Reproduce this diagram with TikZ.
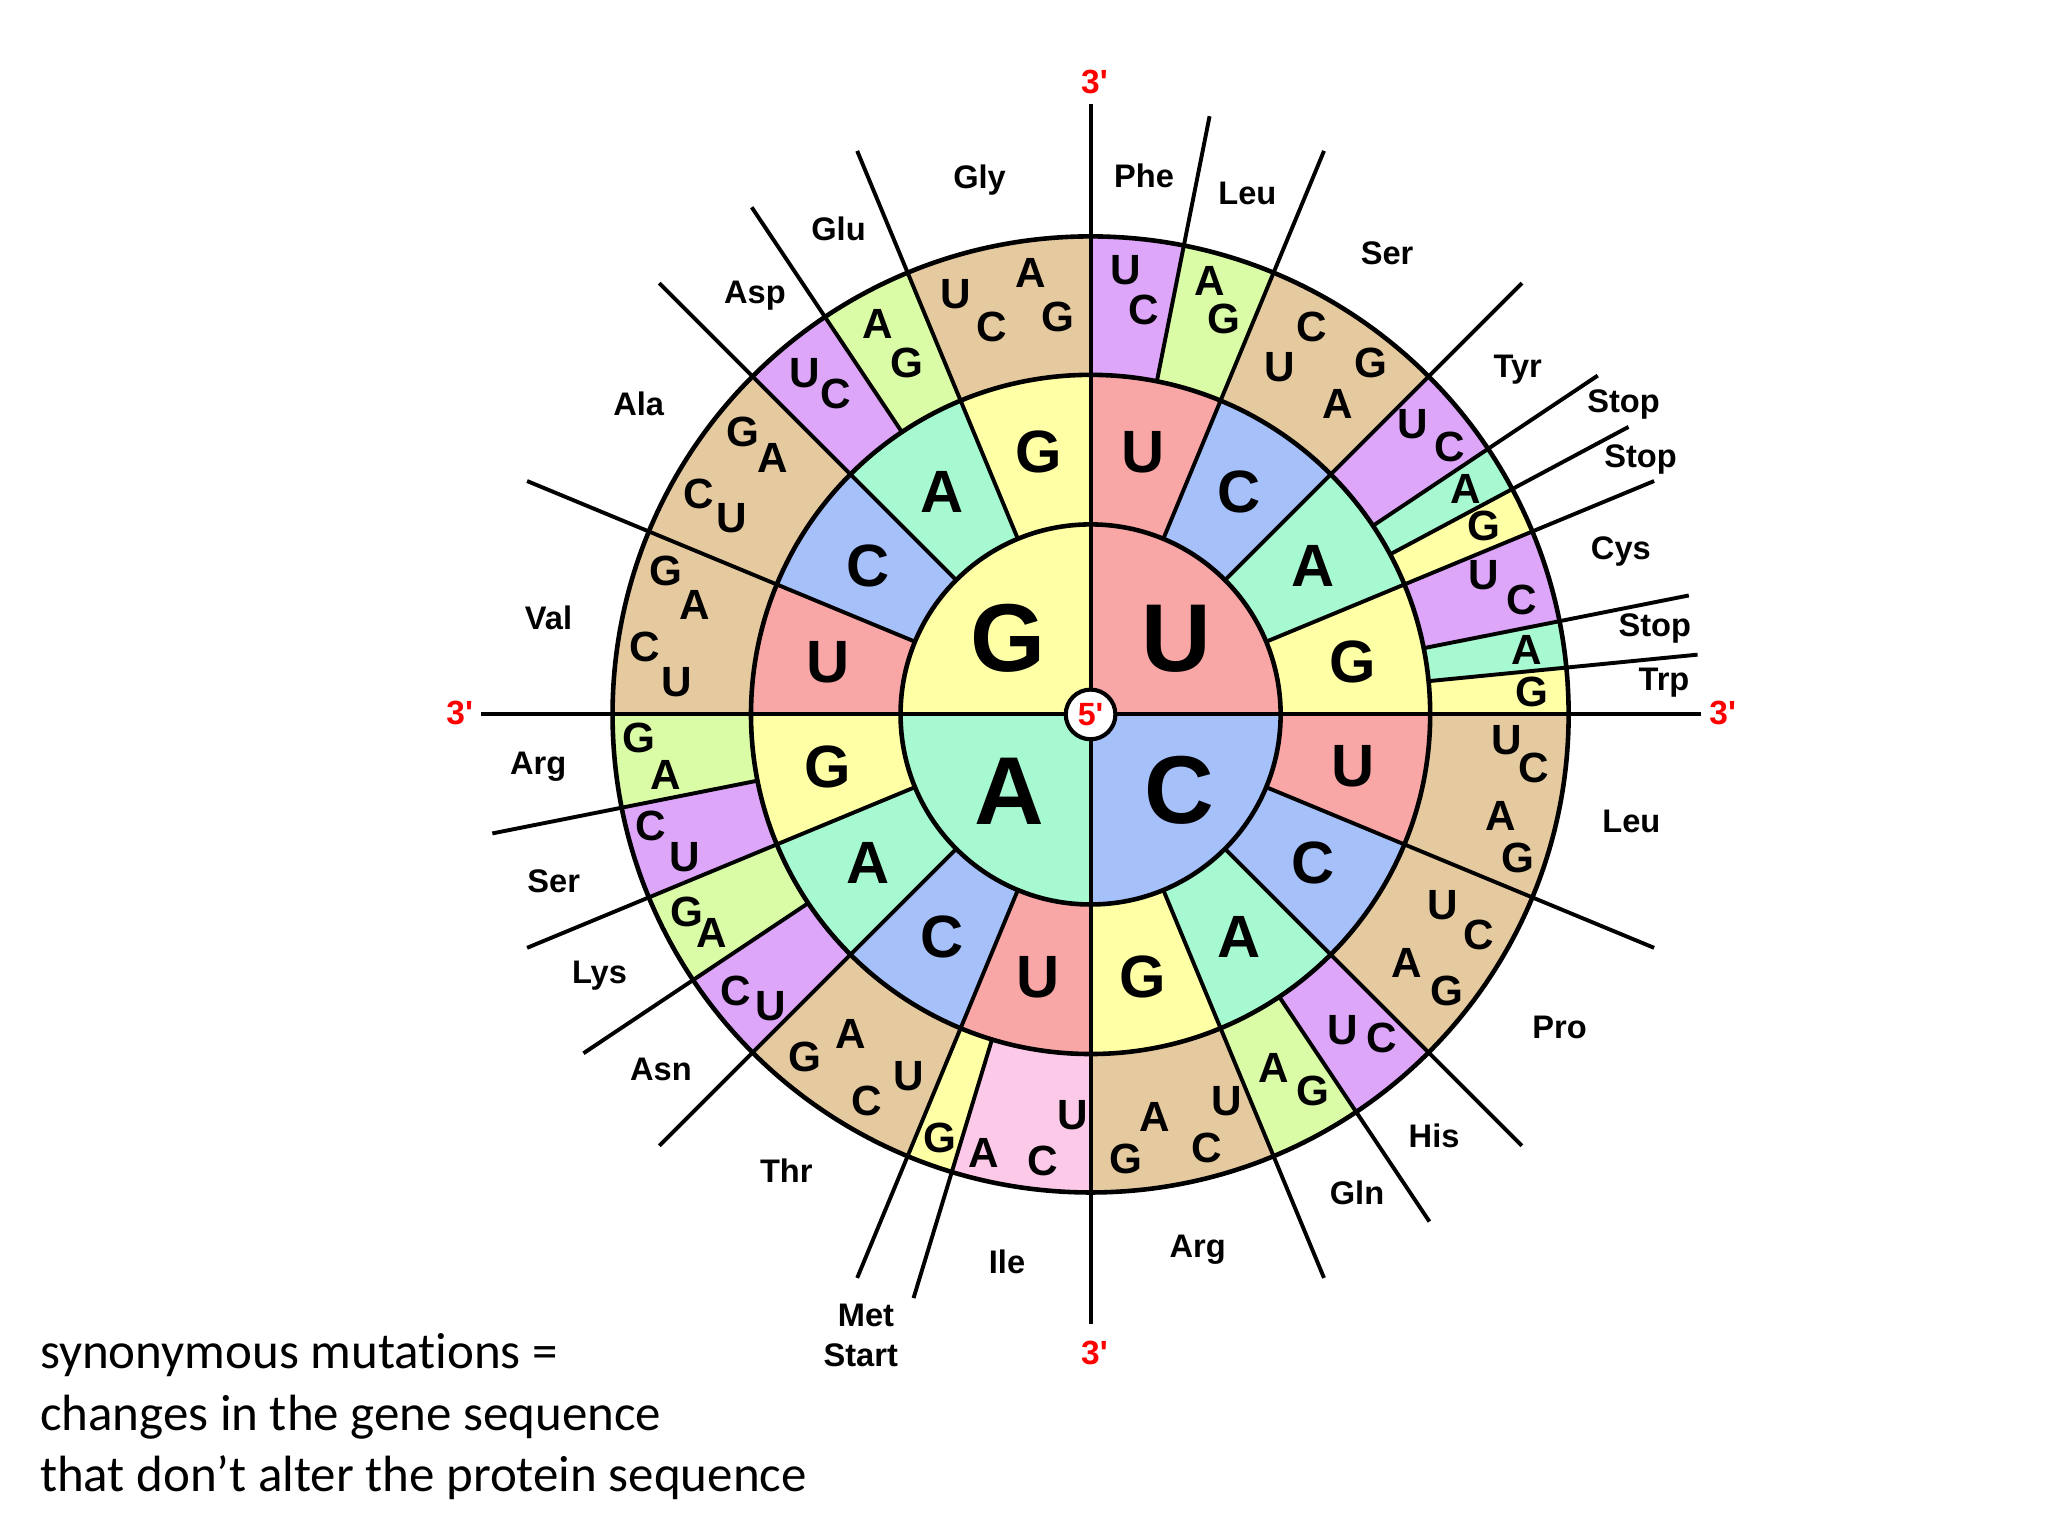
\documentclass[tikz,border=0pt]{standalone}
\usepackage{fontspec}
\newfontfamily\arialf{Liberation Sans}
\newfontfamily\calib[Ligatures={NoCommon}]{Carlito}
\definecolor{cU}{HTML}{F9A6A6}
\definecolor{cC}{HTML}{A6C0F9}
\definecolor{cA}{HTML}{A6F9D0}
\definecolor{cG}{HTML}{FFFFA6}
\definecolor{cT}{HTML}{E6CA9F}
\definecolor{cP}{HTML}{DDA6F9}
\definecolor{cL}{HTML}{DBFCA6}
\definecolor{cI}{HTML}{FCCAE8}
\begin{document}
\begin{tikzpicture}[x=0.01cm,y=0.01cm,
  bigl/.style={font=\arialf\bfseries\fontsize{21}{21}\selectfont, inner sep=0},
  midl/.style={font=\arialf\bfseries\fontsize{13}{13}\selectfont, inner sep=0},
  smll/.style={font=\arialf\bfseries\fontsize{9.2}{9.2}\selectfont, inner sep=0},
  aal/.style={font=\arialf\bfseries\fontsize{7.1}{7.1}\selectfont, inner sep=0},
  primel/.style={font=\arialf\bfseries\fontsize{7.3}{7.3}\selectfont, text=red, inner sep=0},
  notel/.style={font=\calib\fontsize{11.1}{13.4}\selectfont, anchor=base west, inner sep=0},
  ringl/.style={line width=1.0pt},
  rayl/.style={line width=0.85pt}]
\useasboundingbox (-835,-629) rectangle (733,547);
% third ring
\foreach \a/\b/\c in {0/11.25/cP, 11.25/22.5/cL, 22.5/45/cT, 45/56.25/cP, 56.25/61.875/cA, 61.875/67.5/cG, 67.5/78.75/cP, 78.75/84.375/cA, 84.375/90/cG, 90/135/cT, 135/146.25/cP, 146.25/157.5/cL, 157.5/180/cT, 180/196.875/cI, 196.875/202.5/cG, 202.5/225/cT, 225/236.25/cP, 236.25/247.5/cL, 247.5/258.75/cP, 258.75/270/cL, 270/315/cT, 315/326.25/cP, 326.25/337.5/cL, 337.5/360/cT}
  \fill[\c] (0,0) -- ({90-\a}:366) arc[start angle={90-\a}, end angle={90-\b}, radius=366] -- cycle;
% second ring
\foreach \i/\c in {0/cU,1/cC,2/cA,3/cG,4/cU,5/cC,6/cA,7/cG,8/cU,9/cC,10/cA,11/cG,12/cU,13/cC,14/cA,15/cG}
  \fill[\c] (0,0) -- ({90-22.5*\i}:260) arc[start angle={90-22.5*\i}, end angle={90-22.5*(\i+1)}, radius=260] -- cycle;
% inner ring
\foreach \i/\c in {0/cU,1/cC,2/cA,3/cG}
  \fill[\c] (0,0) -- ({90-90*\i}:145.5) arc[start angle={90-90*\i}, end angle={90-90*(\i+1)}, radius=145.5] -- cycle;
% circles
\draw[ringl] (0,0) circle[radius=145.5];
\draw[ringl] (0,0) circle[radius=260];
\draw[ringl] (0,0) circle[radius=366];
% rays
\foreach \a in {0,90,180,270} \draw[rayl] (0,0) -- ({90-\a}:467);
\foreach \a in {22.5,45,67.5,112.5,135,157.5,202.5,225,247.5,292.5,315,337.5}
  \draw[rayl] ({90-\a}:145.5) -- ({90-\a}:467);
\foreach \a in {11.25,56.25,61.875,78.75,84.375,146.25,196.875,236.25,258.75,326.25}
  \draw[rayl] ({90-\a}:260) -- ({90-\a}:467);
% center
\node[circle, draw, line width=0.9pt, fill=white, minimum size=0.38cm, inner sep=0, font=\arialf\bfseries\fontsize{7}{7}\selectfont, text=red] (five) at (0,0) {5\textquotesingle};
% inner letters
\foreach \x/\y/\t in {772/489/G, 901/489/U, 773/606/A, 903/605/C}
  \node[bigl] at ({\x-835},{547-\y}) {\t};
% second ring letters
\foreach \i/\t in {0/U,1/C,2/A,3/G,4/U,5/C,6/A,7/G,8/U,9/C,10/A,11/G,12/U,13/C,14/A,15/G}
  \node[midl] at ({90-22.5*\i-11.25}:205) {\t};
% third ring letters
\foreach \x/\y/\t in {862/207/U, 876/237/C, 926/215/A, 937/244/G,
  980/281/U, 1004/250/C, 1024/309/A, 1050/278/G,
  1082/325/U, 1110/342/C, 1122/374/A, 1136/403/G,
  1136/440/U, 1165/459/C, 1169/498/A, 1173/530/G,
  1154/567/U, 1174/588/C, 1149/625/A, 1162/657/G,
  1105/693/U, 1132/716/C, 1077/737/A, 1108/759/G,
  1028/789/U, 1058/795/C, 975/818/A, 1005/835/G,
  939/843/U, 924/879/C, 884/855/A, 862/887/G,
  821/854/U, 798/889/C, 753/883/A, 720/871/G,
  696/824/U, 664/843/C, 651/792/A, 616/809/G,
  590/770/U, 563/759/C, 545/714/A, 526/698/G,
  524/656/U, 498/632/C, 510/593/A, 489/565/G,
  518/522/U, 494/495/C, 532/463/A, 510/437/G,
  560/397/U, 535/378/C, 592/351/A, 569/331/G,
  616/286/U, 640/302/C, 672/248/A, 694/278/G,
  732/225/U, 759/250/C, 789/209/A, 810/243/G}
  \node[smll] at ({\x-835},{547-\y}) {\t};
% amino acid labels
\foreach \x/\y/\t in {876/135/Phe, 955/148/Leu, 1062/194/Ser, 1162/283/Tyr, 1243/310/Stop, 1256/352/Stop, 1241/422/Cys, 1267/481/Stop, 1274/523/Trp, 1249/629/Leu, 1194/787/Pro, 1098/870/His, 1039/913/Gln, 917/957/Arg, 771/966/Ile, 663/1007/Met, 659/1038/Start, 602/896/Thr, 506/819/Asn, 459/747/Lys, 424/675/Ser, 412/587/Arg, 420/473/Val, 489/309/Ala, 578/226/Asp, 642/175/Glu, 750/138/Gly}
  \node[aal] at ({\x-835},{547-\y}) {\t};
% 3' labels
\foreach \x/\y in {838/63, 838/1036, 352/546, 1319/546}
  \node[primel] at ({\x-835},{547-\y}) {3\textquotesingle};
% note
\node[notel] (n1) at ({30-835},{547-1048}) {synonymous mutations =};
\node[notel] (n2) at ({30-835},{547-1095}) {changes in the gene sequence};
\node[notel] (n3) at ({30-835},{547-1142}) {that don’t alter the protein sequence};
\end{tikzpicture}
\end{document}
